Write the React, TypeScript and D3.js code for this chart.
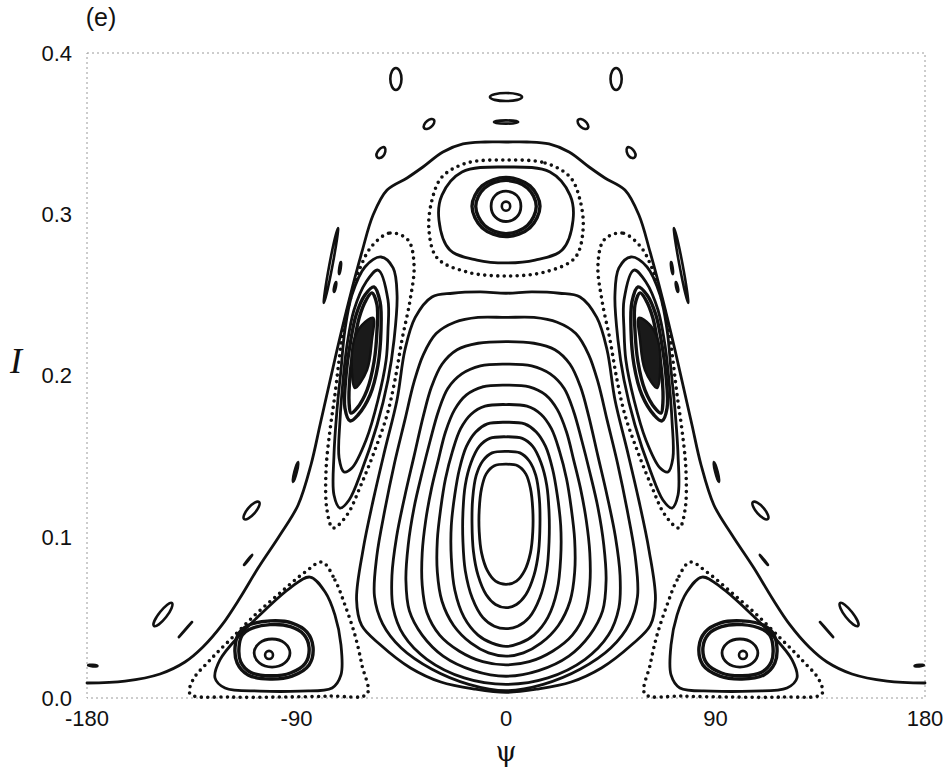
import React from 'react';
import * as d3 from 'd3';

type P = [number, number];

// ---------- axes ----------
const xTicks = [-180, -90, 0, 90, 180];
const xTickLabels = ['-180', '-90', '0', '90', '180'];
const yTicks = [0, 0.1, 0.2, 0.3, 0.4];
const yTickLabels = ['0.0', '0.1', '0.2', '0.3', '0.4'];

// ---------- outer separatrix (left half, psi -180 -> 0) ----------
const outerSeparatrixLeft: P[] = [
  [-180, 0.0093], [-163.7, 0.0105], [-148.6, 0.0149], [-137.9, 0.0223], [-130.2, 0.0316],
  [-122.0, 0.0453], [-114.3, 0.062], [-106.5, 0.0806], [-97.1, 0.1011], [-89.3, 0.1197],
  [-83.8, 0.1445], [-79.9, 0.1693], [-76.5, 0.191], [-72.6, 0.2158], [-67.4, 0.2468],
  [-61.9, 0.2766], [-57.1, 0.2995], [-51.1, 0.315], [-42.5, 0.3225], [-35.7, 0.3293],
  [-27.1, 0.3386], [-18.5, 0.3436], [-9.0, 0.3448], [0, 0.3448],
];

// ---------- central island rings (left halves, top -> bottom) ----------
const centralRing1: P[] = [[0, 0.251], [-11, 0.2518], [-23, 0.251], [-31.8, 0.2487], [-39, 0.236], [-43.4, 0.216], [-46.8, 0.185], [-52, 0.154], [-57, 0.123], [-61.4, 0.092], [-64.2, 0.061], [-62, 0.045], [-54, 0.033], [-41, 0.0186], [-28, 0.0099], [-13.3, 0.0055], [0, 0.0035]];
const centralRing2: P[] = [[0, 0.236], [-12, 0.236], [-22, 0.233], [-30, 0.226], [-35.5, 0.213], [-39.5, 0.196], [-43.5, 0.172], [-48, 0.145], [-52, 0.117], [-55.5, 0.088], [-56.5, 0.063], [-53, 0.046], [-45, 0.031], [-32, 0.018], [-16, 0.0085], [0, 0.0045]];
const centralRing3: P[] = [[0, 0.221], [-12, 0.22], [-21, 0.216], [-27.5, 0.207], [-32, 0.193], [-35.5, 0.175], [-39.5, 0.15], [-43.5, 0.125], [-47, 0.1], [-49, 0.076], [-48.5, 0.056], [-44, 0.039], [-34, 0.024], [-18, 0.0125], [0, 0.0085]];
const centralRing4: P[] = [[0, 0.207], [-11, 0.206], [-19, 0.201], [-25, 0.192], [-29, 0.178], [-32.5, 0.16], [-36, 0.14], [-39.5, 0.118], [-42, 0.095], [-43, 0.073], [-41.5, 0.054], [-36, 0.039], [-27, 0.026], [-14, 0.017], [0, 0.0135]];
const centralRing5: P[] = [[0, 0.194], [-10, 0.193], [-17, 0.188], [-22, 0.179], [-26, 0.165], [-29, 0.148], [-32, 0.13], [-34.5, 0.11], [-36, 0.09], [-36, 0.07], [-34, 0.053], [-28.5, 0.039], [-20, 0.029], [-10, 0.0225], [0, 0.0205]];
const centralRing6: P[] = [[0, 0.182], [-9, 0.181], [-15, 0.176], [-19.5, 0.167], [-23, 0.153], [-26, 0.136], [-28, 0.118], [-29.5, 0.098], [-29.5, 0.078], [-27.5, 0.06], [-22.5, 0.045], [-15, 0.034], [-7.5, 0.028], [0, 0.026]];
const centralRing7: P[] = [[0, 0.171], [-8, 0.17], [-13, 0.165], [-17, 0.156], [-20, 0.142], [-22, 0.126], [-23.5, 0.107], [-23.5, 0.087], [-22, 0.067], [-18, 0.05], [-12, 0.039], [-6, 0.034], [0, 0.032]];
const centralRing8: P[] = [[0, 0.162], [-7, 0.161], [-11.5, 0.156], [-15, 0.146], [-17.5, 0.132], [-18.5, 0.115], [-18.5, 0.097], [-17.5, 0.079], [-14.5, 0.062], [-10, 0.05], [-5, 0.0445], [0, 0.043]];
const centralRing9: P[] = [[0, 0.153], [-6, 0.152], [-10, 0.147], [-12.8, 0.138], [-14.3, 0.124], [-14.6, 0.108], [-14, 0.091], [-12, 0.076], [-8.5, 0.064], [-4.5, 0.058], [0, 0.056]];
const centralRing10: P[] = [[0, 0.145], [-5, 0.144], [-8.5, 0.139], [-10.5, 0.13], [-11.5, 0.117], [-11.5, 0.103], [-10.5, 0.09], [-8, 0.079], [-4.5, 0.0725], [0, 0.0705]];

// ---------- top island (psi = 0, I = 0.305) ----------
const topIslandCore: P[] = [[0, 0.3078], [1.8, 0.305], [0, 0.3022], [-1.8, 0.305]];
const topIslandRing1: P[] = [[0, 0.3143], [4.6, 0.3117], [6.4, 0.305], [4.6, 0.2983], [0, 0.2955], [-4.6, 0.2983], [-6.4, 0.305], [-4.6, 0.3117]];
const topIslandRing2: P[] = [[0, 0.321], [9.2, 0.3163], [13, 0.305], [9.2, 0.293], [0, 0.288], [-9.2, 0.293], [-13, 0.305], [-9.2, 0.3163]];
const topIslandRing3: P[] = [[0, 0.3228], [10.3, 0.3176], [14.6, 0.305], [10.3, 0.2917], [0, 0.2862], [-10.3, 0.2917], [-14.6, 0.305], [-10.3, 0.3176]];
const topIslandRing4: P[] = [[0, 0.3293], [18.9, 0.3262], [27.5, 0.3119], [28.8, 0.2964], [24.1, 0.2778], [12.5, 0.2716], [0, 0.2698], [-12.5, 0.2716], [-24.1, 0.2778], [-28.8, 0.2964], [-27.5, 0.3119], [-18.9, 0.3262]];
const topIslandChaos: P[] = [[0, 0.3336], [16.8, 0.3318], [27.5, 0.3231], [31.8, 0.3088], [33.1, 0.2902], [29.6, 0.2729], [16.8, 0.2642], [0, 0.2617], [-16.8, 0.2642], [-29.6, 0.2729], [-33.1, 0.2902], [-31.8, 0.3088], [-27.5, 0.3231], [-16.8, 0.3318]];

// ---------- side island (left one, psi ~ -62, I ~ 0.214) ----------
const sideIslandCore: P[] = [[-57.1, 0.2357], [-57.6, 0.222], [-59.7, 0.2034], [-64.9, 0.1922], [-66.2, 0.2022], [-65.3, 0.222], [-61.9, 0.2313]];
const sideIslandThickA: P[] = [[-56.7, 0.2549], [-54.1, 0.2456], [-53.7, 0.2282], [-55.0, 0.2065], [-58.4, 0.1879], [-63.6, 0.1755], [-67.0, 0.1718], [-69.2, 0.1798], [-68.7, 0.2003], [-67.0, 0.2189], [-64.4, 0.2375], [-60.6, 0.2499]];
const sideIslandThickB: P[] = [[-57.6, 0.2512], [-55.4, 0.2437], [-55.4, 0.2282], [-56.7, 0.2084], [-59.7, 0.191], [-64.0, 0.1798], [-66.6, 0.1767], [-67.4, 0.1829], [-67.0, 0.2003], [-65.3, 0.2189], [-63.1, 0.2357], [-60.1, 0.2468]];
const sideIslandRingA: P[] = [[-55.0, 0.2654], [-50.7, 0.2468], [-50.7, 0.2282], [-51.5, 0.2096], [-55.0, 0.1848], [-60.1, 0.16], [-66.2, 0.1426], [-69.6, 0.1402], [-71.7, 0.1488], [-71.3, 0.1724], [-70.0, 0.1972], [-68.3, 0.2189], [-65.3, 0.2406], [-60.1, 0.258]];
const sideIslandRingB: P[] = [[-53.7, 0.2735], [-48.5, 0.2667], [-46.8, 0.2499], [-48.1, 0.222], [-50.7, 0.1972], [-55.4, 0.1693], [-61.9, 0.1414], [-67.4, 0.1228], [-71.3, 0.1178], [-73.9, 0.1259], [-73.9, 0.1507], [-72.6, 0.1786], [-70.9, 0.2034], [-69.2, 0.2282], [-66.2, 0.2499], [-60.6, 0.2673]];
const sideIslandChaos: P[] = [[-57.6, 0.2803], [-49.8, 0.2884], [-42.1, 0.284], [-39.5, 0.2685], [-41.2, 0.2468], [-44.7, 0.222], [-47.7, 0.1972], [-51.1, 0.1755], [-56.3, 0.1538], [-62.3, 0.1321], [-68.3, 0.1135], [-74.3, 0.1054], [-76.9, 0.1166], [-77.3, 0.1414], [-75.6, 0.1662], [-73.5, 0.1879], [-71.7, 0.2096], [-70.0, 0.2282], [-67.0, 0.2468], [-62.7, 0.2667]];

// ---------- bottom island (left one, psi ~ -101, I ~ 0.027) ----------
const bottomIslandCore: P[] = [[-101.8, 0.0292], [-100.1, 0.0267], [-101.8, 0.0242], [-103.5, 0.0267]];
const bottomIslandRing1: P[] = [[-100.5, 0.0366], [-95.1, 0.0341], [-92.8, 0.0279], [-95.1, 0.0217], [-100.5, 0.0192], [-105.9, 0.0217], [-108.2, 0.0279], [-105.9, 0.0341]];
const bottomIslandThickA: P[] = [[-111.3, 0.0447], [-101.4, 0.0478], [-91.9, 0.0465], [-85.5, 0.0409], [-82.9, 0.0316], [-84.6, 0.0205], [-91.9, 0.0136], [-101.4, 0.0118], [-110.8, 0.0143], [-115.5, 0.0217], [-116.4, 0.0316], [-114.7, 0.0403]];
const bottomIslandThickB: P[] = [[-110.3, 0.0425], [-101.4, 0.0455], [-92.6, 0.0443], [-86.9, 0.0395], [-84.6, 0.0313], [-86.2, 0.0215], [-92.6, 0.0155], [-101.4, 0.0138], [-109.8, 0.016], [-114, 0.0225], [-114.7, 0.0316], [-113.3, 0.039]];
const bottomIslandRing2: P[] = [[-84.2, 0.075], [-77.7, 0.0657], [-73.5, 0.0515], [-70.9, 0.0329], [-70.9, 0.0143], [-74.7, 0.0062], [-88.5, 0.0043], [-105.7, 0.0043], [-120.7, 0.0062], [-125.0, 0.0124], [-122.9, 0.0236], [-114.3, 0.0391], [-103.5, 0.0546], [-92.8, 0.0682]];
const bottomIslandChaos: P[] = [[-79.0, 0.0843], [-73.5, 0.0732], [-69.2, 0.0577], [-64.9, 0.0391], [-61.9, 0.0205], [-59.7, 0.0025], [-75.6, 0.0012], [-97.1, 0.0006], [-118.6, 0.0006], [-135.7, 0.0025], [-134.5, 0.0112], [-127.1, 0.0236], [-118.6, 0.036], [-107.8, 0.0515], [-97.1, 0.0651], [-86.3, 0.0781]];

// ---------- small satellite islands ----------
const topEllipse: P[] = [[0, 0.3752], [6.9, 0.3727], [0, 0.3702], [-6.9, 0.3727]];
const topDash: P[] = [[0, 0.3582], [5.2, 0.3572], [0, 0.3562], [-5.2, 0.3572]];
const farTopOvalLeft: P[] = [[-47.3, 0.3907], [-44.9, 0.3839], [-47.3, 0.3771], [-49.7, 0.3839]];
const upperOvalLeft: P[] = [[-35.2, 0.3535], [-33.9, 0.3578], [-30.9, 0.3585], [-32.2, 0.3541]];
const shoulderOvalLeft: P[] = [[-55.4, 0.3355], [-54.6, 0.3399], [-52.0, 0.3411], [-52.8, 0.3361]];
const sideLongDashLeft: P[] = [[-72.2, 0.2915], [-74.5, 0.2685], [-78.2, 0.245], [-75.9, 0.2685]];
const sideShortDash1Left: P[] = [[-70.9, 0.2704], [-71.0, 0.2665], [-71.7, 0.2629], [-71.6, 0.2668]];
const sideShortDash2Left: P[] = [[-73.0, 0.258], [-73.1, 0.2548], [-73.9, 0.2518], [-73.8, 0.255]];
const midDashLeft: P[] = [[-89.3, 0.1464], [-89.9, 0.14], [-91.5, 0.134], [-90.9, 0.1404]];
const midOvalLeft: P[] = [[-106.1, 0.1215], [-108.0, 0.1147], [-112.5, 0.111], [-110.6, 0.1179]];
const lowDashLeft: P[] = [[-109.1, 0.0887], [-110.4, 0.086], [-112.5, 0.0825], [-111.2, 0.0852]];
const lowOvalLeft: P[] = [[-143.5, 0.0589], [-146.0, 0.0502], [-151.2, 0.0447], [-148.6, 0.0533]];
const lowDash2Left: P[] = [[-134.9, 0.0471], [-137.2, 0.0431], [-140.5, 0.0378], [-138.2, 0.0418]];
const edgeDashLeft: P[] = [[-179.5, 0.0203], [-177.5, 0.0206], [-175.5, 0.0199], [-177.5, 0.0196]];

const mirror = (pts: P[]): P[] => pts.map(([p, v]) => [-p, v] as P);
const fullRing = (half: P[]): P[] => [...half, ...mirror(half).slice(1, -1).reverse()];

const centralRings = [centralRing1, centralRing2, centralRing3, centralRing4, centralRing5, centralRing6, centralRing7, centralRing8, centralRing9, centralRing10];
const leftSolid = [sideIslandRingA, sideIslandRingB, bottomIslandRing1, bottomIslandRing2];
const leftSmall = [bottomIslandCore, farTopOvalLeft, upperOvalLeft, shoulderOvalLeft, sideLongDashLeft, sideShortDash1Left, sideShortDash2Left, midDashLeft, midOvalLeft, lowDashLeft, lowOvalLeft, lowDash2Left, edgeDashLeft];
const leftThick = [sideIslandThickA, sideIslandThickB, bottomIslandThickA, bottomIslandThickB];
const leftChaos = [sideIslandChaos, bottomIslandChaos];

export default function App() {
  const W = 947, H = 767;
  const x = d3.scaleLinear().domain([-180, 180]).range([87, 925]);
  const y = d3.scaleLinear().domain([0, 0.4]).range([698, 53]);
  const closedGen = d3.line<P>().x(d => x(d[0])).y(d => y(d[1])).curve(d3.curveCatmullRomClosed.alpha(0.5));
  const ovalGen = d3.line<P>().x(d => x(d[0])).y(d => y(d[1])).curve(d3.curveCardinalClosed.tension(-0.65));
  const openGen = d3.line<P>().x(d => x(d[0])).y(d => y(d[1])).curve(d3.curveCatmullRom.alpha(0.5));

  const outer: P[] = [...outerSeparatrixLeft, ...mirror(outerSeparatrixLeft).reverse().slice(1)];

  const solid: P[][] = [
    ...centralRings.map(fullRing),
    topIslandRing1, topIslandRing4,
    ...leftSolid, ...leftSolid.map(mirror),
  ];
  const ovals: P[][] = [topIslandCore, topEllipse, topDash, ...leftSmall, ...leftSmall.map(mirror)];
  const thick: P[][] = [topIslandRing2, topIslandRing3, ...leftThick, ...leftThick.map(mirror)];
  const chaos: P[][] = [topIslandChaos, ...leftChaos, ...leftChaos.map(mirror)];
  const cores: P[][] = [sideIslandCore, mirror(sideIslandCore)];

  const font = '"Liberation Sans", Arial, Helvetica, sans-serif';

  return (
    <svg width={W} height={H} style={{ position: 'absolute', left: 0, top: 0, background: '#fff' }}>
      <rect x={0} y={0} width={W} height={H} fill="#fff" />
      <rect x={x(-180)} y={y(0.4)} width={x(180) - x(-180)} height={y(0) - y(0.4)}
        fill="none" stroke="#9a9a9a" strokeWidth={1} strokeDasharray="2 3" />

      <g fill="none" stroke="#111" strokeLinejoin="round" strokeLinecap="round">
        <path d={openGen(outer) || ''} strokeWidth={2.8} />
        {solid.map((r, i) => <path key={'s' + i} d={closedGen(r) || ''} strokeWidth={2.8} />)}
        {ovals.map((r, i) => <path key={'m' + i} d={ovalGen(r) || ''} strokeWidth={2.6} />)}
        {thick.map((r, i) => <path key={'t' + i} d={closedGen(r) || ''} strokeWidth={3.4} />)}
        {chaos.map((r, i) => <path key={'c' + i} d={closedGen(r) || ''} strokeWidth={3.6} strokeDasharray="0 6.5" />)}
        {cores.map((r, i) => <path key={'k' + i} d={closedGen(r) || ''} strokeWidth={2.5} fill="#1a1a1a" />)}
      </g>

      <g fontFamily={font} fontSize={22} fill="#111">
        {yTicks.map((t, i) => (
          <text key={'y' + i} x={72} y={y(t)} dy="0.36em" textAnchor="end">{yTickLabels[i]}</text>
        ))}
        {xTicks.map((t, i) => (
          <text key={'x' + i} x={x(t)} y={726} textAnchor="middle">{xTickLabels[i]}</text>
        ))}
      </g>
      <text x={101} y={26} textAnchor="middle" fontFamily={font} fontSize={25} fill="#111">(e)</text>
      <text x={16} y={373} textAnchor="middle" fontFamily='"Liberation Serif", "Times New Roman", serif'
        fontStyle="italic" fontSize={36} fill="#111">I</text>
      <text x={506} y={761} textAnchor="middle" fontFamily='"DejaVu Serif", "Liberation Serif", serif'
        fontSize={27} fill="#111">ψ</text>
    </svg>
  );
}
